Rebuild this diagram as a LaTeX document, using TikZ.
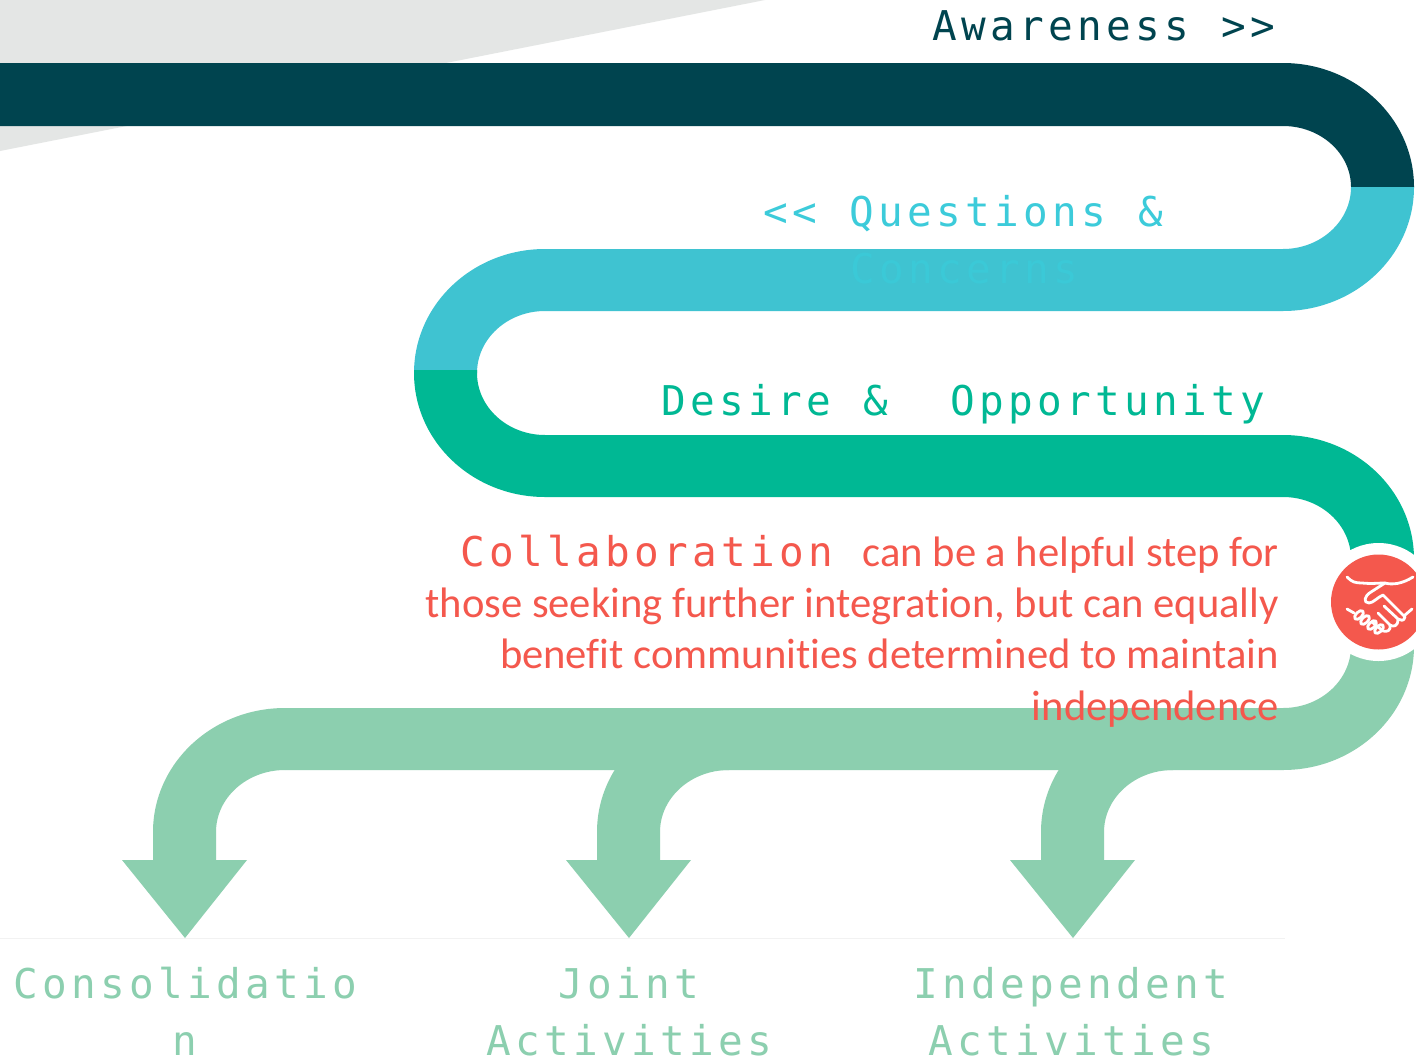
\documentclass[tikz,border=0pt]{standalone}
\usepackage{fontspec}
\setmainfont[Ligatures=NoCommon]{Carlito}
\newfontfamily\monoface[LetterSpace=10.5]{DejaVu Sans Mono}
\definecolor{cdark}{HTML}{00444F}
\definecolor{cblue}{HTML}{3FC3D1}
\definecolor{cbluetext}{HTML}{3CCBDA}
\definecolor{cbluefaint}{HTML}{3BC9D7}
\definecolor{cgreen}{HTML}{00B894}
\definecolor{clight}{HTML}{8CCFAF}
\definecolor{cred}{HTML}{F4584D}
\definecolor{cgray}{HTML}{E4E6E5}
\tikzset{
  monolabel/.style={inner sep=0pt,anchor=base west,font=\monoface\fontsize{41}{57}\selectfont},
  bodylabel/.style={inner sep=0pt,anchor=base east,text=cred,font=\fontsize{42.6}{51}\selectfont},
  branchlabel/.style={inner sep=0pt,anchor=base,align=center,text=clight,font=\monoface\fontsize{41}{57}\selectfont},
  shakeline/.style={draw=white,line width=2.8pt,line cap=round,line join=round,fill=none}
}
\begin{document}
\begin{tikzpicture}[x=1pt,y=-1pt]
\useasboundingbox (0,0) rectangle (1416,1060);
\clip (0,0) rectangle (1416,1060);
\fill[white] (0,0) rectangle (1416,1060);
\fill[cgray] (0,0) -- (765,0) -- (0,151) -- cycle;
\draw[color=black!5,line width=1pt] (0,938.5) -- (1285,938.5);
% band 1
\fill[cdark] (-2,63) -- (1283,63) arc[start angle=-90,end angle=0,x radius=131,y radius=124]
  -- (1351,187) arc[start angle=0,end angle=-90,x radius=68,y radius=61] -- (-2,126) -- cycle;
% band 2
\fill[cblue] (1414,187) arc[start angle=0,end angle=90,x radius=131,y radius=124]
  -- (545,311) arc[start angle=-90,end angle=-180,x radius=68,y radius=62] -- (477,370) -- (414,370)
  -- (414,373) arc[start angle=180,end angle=270,x radius=131,y radius=124]
  -- (1283,249) arc[start angle=90,end angle=0,x radius=68,y radius=62] -- cycle;
% band 3
\fill[cgreen] (414,370) -- (414,373) arc[start angle=180,end angle=90,x radius=131,y radius=124]
  -- (1283,497) arc[start angle=-90,end angle=0,x radius=68,y radius=62] -- (1351,600) -- (1414,600) -- (1414,559)
  arc[start angle=0,end angle=-90,x radius=131,y radius=124]
  -- (545,435) arc[start angle=90,end angle=180,x radius=68,y radius=62] -- (477,370) -- cycle;
% arrows
\foreach \dx in {0,444,888}{
  \fill[clight] (122+\dx,860) -- (153+\dx,860) -- (153+\dx,832)
    arc[start angle=180,end angle=270,x radius=132,y radius=124] -- (285+\dx,770)
    arc[start angle=-90,end angle=-180,x radius=69,y radius=62] -- (216+\dx,860) -- (247+\dx,860) -- (185+\dx,938) -- cycle;
}
% band 4
\fill[clight] (1414,646) arc[start angle=0,end angle=90,x radius=131,y radius=124]
  -- (285,770) -- (285,708) -- (1283,708) arc[start angle=90,end angle=0,x radius=68,y radius=62] -- (1351,600) -- (1414,600) -- cycle;
% badge
\fill[white] (1378.5,602) circle[radius=59];
\fill[cred] (1378.5,602) circle[radius=47.5];
\draw[shakeline] (1347,577) .. controls (1352,582) and (1355,583) .. (1362,583) .. controls (1372,584) and (1378,583) .. (1385,583) .. controls (1392,585) and (1402,584) .. (1413,577);
\draw[shakeline] (1385,583) -- (1371,592) .. controls (1364,596) and (1363,603) .. (1369,603) .. controls (1373,603) and (1378,597) .. (1383,595) -- (1405,617) .. controls (1404,622) and (1400,620) .. (1398,619) -- (1384,606);
\draw[shakeline] (1398,619) .. controls (1398,627) and (1393,627) .. (1390,625) -- (1378,613);
\draw[shakeline] (1390,625) .. controls (1391,631) and (1387,632) .. (1383,631) -- (1372,622);
\draw[shakeline] (1347,609) -- (1354,613) (1412,609) -- (1405,615);
\foreach \cx/\cy in {1359/615,1365/620,1372/625,1379/629}{
  \draw[shakeline,rotate around={45:(\cx,\cy)}] (\cx,\cy) ellipse[x radius=5.5,y radius=3];
}
% labels
\node[monolabel,text=cdark] (awareness) at (932,40) {Awareness \kern4pt>>};
\node[monolabel,text=cbluetext] (questions) at (763,226) {<< \kern4pt Questions \kern3pt\&};
\node[monolabel,text=cbluefaint] (concerns) at (850,283) {Concerns};
\node[monolabel,text=cgreen] (desire) at (661,415) {Desire \kern4pt\&\ \ \kern4pt Opportunity};
\node[monolabel,text=cred] (collab) at (460,566) {Collaboration};
\node[bodylabel] (body1) at (1279,566) {can be a helpful step for};
\node[bodylabel] (body2) at (1279,617) {those seeking further integration, but can equally};
\node[bodylabel] (body3) at (1279,668) {benefit communities determined to maintain};
\node[bodylabel] (body4) at (1279,720) {independence};
\node[branchlabel] (consol) at (185,1055) {Consolidatio\\n};
\node[branchlabel] (joint) at (629,1055) {Joint\\Activities};
\node[branchlabel] (indep) at (1071,1055) {Independent\\Activities};
\end{tikzpicture}
\end{document}
